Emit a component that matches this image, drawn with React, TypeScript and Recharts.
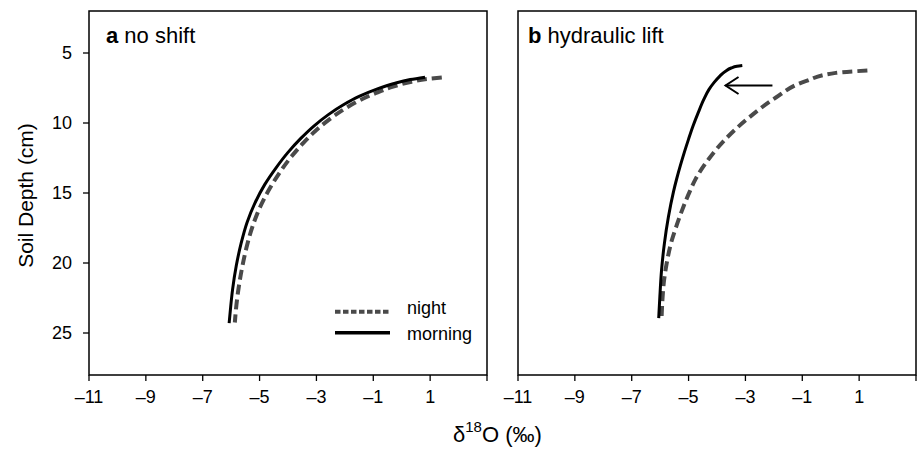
import React from 'react';
import { LineChart, Line, XAxis, YAxis, ReferenceArea } from 'recharts';

// δ18O (v) vs soil depth in cm (d) — panel a (no shift)
const morningA = [
  { v: 0.82, d: 6.73 }, { v: 0.3, d: 6.9 }, { v: -0.3, d: 7.2 }, { v: -0.9, d: 7.6 },
  { v: -1.5, d: 8.1 }, { v: -2.05, d: 8.7 }, { v: -2.58, d: 9.4 }, { v: -3.08, d: 10.2 },
  { v: -3.55, d: 11.1 }, { v: -4.0, d: 12.1 }, { v: -4.42, d: 13.2 }, { v: -4.82, d: 14.4 },
  { v: -5.16, d: 15.7 }, { v: -5.44, d: 17.1 }, { v: -5.65, d: 18.6 }, { v: -5.82, d: 20.2 },
  { v: -5.95, d: 21.9 }, { v: -6.02, d: 23.2 }, { v: -6.07, d: 24.29 },
];
const nightA = [
  { v: 1.41, d: 6.75 }, { v: 0.9, d: 6.85 }, { v: 0.35, d: 7.05 }, { v: -0.3, d: 7.4 },
  { v: -0.9, d: 7.85 }, { v: -1.5, d: 8.4 }, { v: -2.02, d: 9.0 }, { v: -2.52, d: 9.7 },
  { v: -3.0, d: 10.5 }, { v: -3.45, d: 11.4 }, { v: -3.88, d: 12.4 }, { v: -4.28, d: 13.5 },
  { v: -4.65, d: 14.7 }, { v: -4.98, d: 16.0 }, { v: -5.25, d: 17.4 }, { v: -5.46, d: 18.9 },
  { v: -5.63, d: 20.5 }, { v: -5.76, d: 22.1 }, { v: -5.83, d: 23.3 }, { v: -5.87, d: 24.25 },
];
// panel b (hydraulic lift)
const morningB = [
  { v: -3.11, d: 5.9 }, { v: -3.3, d: 5.95 }, { v: -3.5, d: 6.07 }, { v: -3.7, d: 6.3 },
  { v: -3.9, d: 6.65 }, { v: -4.1, d: 7.1 }, { v: -4.28, d: 7.6 }, { v: -4.46, d: 8.3 },
  { v: -4.66, d: 9.26 }, { v: -4.84, d: 10.2 }, { v: -5.0, d: 11.15 }, { v: -5.15, d: 12.1 },
  { v: -5.29, d: 13.05 }, { v: -5.42, d: 14.0 }, { v: -5.53, d: 14.9 }, { v: -5.71, d: 16.72 },
  { v: -5.85, d: 18.6 }, { v: -5.95, d: 20.5 }, { v: -6.01, d: 22.4 }, { v: -6.05, d: 23.94 },
];
const nightB = [
  { v: 1.29, d: 6.25 }, { v: 0.18, d: 6.42 }, { v: -0.88, d: 7.01 }, { v: -1.94, d: 8.2 },
  { v: -2.88, d: 9.62 }, { v: -3.7, d: 11.15 }, { v: -4.29, d: 12.57 }, { v: -4.75, d: 13.99 },
  { v: -4.96, d: 14.9 }, { v: -5.23, d: 16.24 }, { v: -5.44, d: 17.43 }, { v: -5.62, d: 18.6 },
  { v: -5.77, d: 20.03 }, { v: -5.86, d: 21.2 }, { v: -5.92, d: 22.63 }, { v: -5.95, d: 23.94 },
];
const arrowB = [{ v: -2.05, d: 7.32 }, { v: -3.7, d: 7.32 }];

const xTicks = [-11, -9, -7, -5, -3, -1, 1, 3];
const yTicks = [5, 10, 15, 20, 25];
const xDomain = [-11, 3];
const yDomain = [2, 28];

const FONT = '"Liberation Sans", Arial, Helvetica, sans-serif';
const NIGHT = '#4a4a4a';

const fmtX = (v: number) => (v === 3 ? '' : v < 0 ? '\u2013' + Math.abs(v) : String(v));

const ArrowHead = (props: any) => {
  const { cx, cy, index } = props;
  if (index !== 1 || cx == null) return <g key={'ah' + index} />;
  return (
    <path
      key={'ah' + index}
      d={`M${cx + 13} ${cy - 8.5} L${cx} ${cy} L${cx + 13} ${cy + 8.5}`}
      fill="none"
      stroke="#000"
      strokeWidth={2}
    />
  );
};

function Panel({ night, morning, showYLabels, arrow, width, yAxisWidth, marginLeft, marginRight }: any) {
  return (
    <LineChart
      width={width}
      height={449}
      margin={{ top: 11, right: marginRight, bottom: 0, left: marginLeft }}
    >
      <XAxis
        type="number"
        dataKey="v"
        domain={xDomain}
        ticks={xTicks}
        allowDataOverflow
        tickFormatter={fmtX}
        axisLine={false}
        tickLine={{ stroke: '#000', strokeWidth: 1.3 }}
        tickSize={6}
        tickMargin={9}
        height={74}
        tick={{ fill: '#000', fontSize: 18, fontFamily: FONT }}
        interval={0}
      />
      <YAxis
        type="number"
        dataKey="d"
        domain={yDomain}
        ticks={yTicks}
        reversed
        allowDataOverflow
        width={yAxisWidth}
        axisLine={false}
        tickLine={{ stroke: '#000', strokeWidth: 1.3 }}
        tickSize={6}
        tickMargin={11}
        tick={showYLabels ? { fill: '#000', fontSize: 18, fontFamily: FONT } : false}
        interval={0}
      />
      <ReferenceArea
        x1={-11}
        x2={3}
        y1={2}
        y2={28}
        fill="none"
        fillOpacity={0}
        stroke="#000"
        strokeWidth={1.5}
        ifOverflow="visible"
      />
      <Line
        data={night}
        dataKey="d"
        type="monotoneY"
        stroke={NIGHT}
        strokeWidth={4}
        strokeDasharray="10 5"
        dot={false}
        activeDot={false}
        isAnimationActive={false}
      />
      <Line
        data={morning}
        dataKey="d"
        type="monotoneY"
        stroke="#000"
        strokeWidth={3}
        dot={false}
        activeDot={false}
        isAnimationActive={false}
      />
      {arrow && (
        <Line
          data={arrow}
          dataKey="d"
          type="linear"
          stroke="#000"
          strokeWidth={2}
          dot={ArrowHead}
          activeDot={false}
          isAnimationActive={false}
        />
      )}
    </LineChart>
  );
}

export default function App() {
  return (
    <div
      style={{
        position: 'absolute',
        left: 0,
        top: 0,
        width: 917,
        height: 449,
        background: '#fff',
        fontFamily: FONT,
        overflow: 'hidden',
      }}
    >
      <div style={{ position: 'absolute', left: 0, top: 0 }}>
        <Panel
          night={nightA}
          morning={morningA}
          showYLabels
          width={500}
          yAxisWidth={60}
          marginLeft={29}
          marginRight={13}
        />
      </div>
      <div style={{ position: 'absolute', left: 458, top: 0 }}>
        <Panel
          night={nightB}
          morning={morningB}
          arrow={arrowB}
          showYLabels={false}
          width={459}
          yAxisWidth={60}
          marginLeft={0}
          marginRight={1}
        />
      </div>
      <svg
        width={917}
        height={449}
        style={{ position: 'absolute', left: 0, top: 0, pointerEvents: 'none' }}
        fontFamily={FONT}
      >
        <text x={106} y={43} fontSize={22} fill="#000">
          <tspan fontWeight="bold">a</tspan> no shift
        </text>
        <text x={528} y={43} fontSize={22} fill="#000">
          <tspan fontWeight="bold">b</tspan> hydraulic lift
        </text>
        <text transform="translate(33,195.5) rotate(-90)" textAnchor="middle" fontSize={21} fill="#000">
          Soil Depth (cm)
        </text>
        <text x={453} y={442} fontSize={22} fill="#000">
          δ<tspan fontSize={15} dy={-10}>18</tspan>
          <tspan dy={10}>O (‰)</tspan>
        </text>
        <line x1={335} x2={390} y1={311.7} y2={311.7} stroke={NIGHT} strokeWidth={4} strokeDasharray="5.5 2.5" />
        <line x1={335} x2={390} y1={332.7} y2={332.7} stroke="#000" strokeWidth={3.5} />
        <text x={407} y={313.5} fontSize={18} fill="#000">night</text>
        <text x={407} y={340} fontSize={18} fill="#000">morning</text>
      </svg>
    </div>
  );
}
